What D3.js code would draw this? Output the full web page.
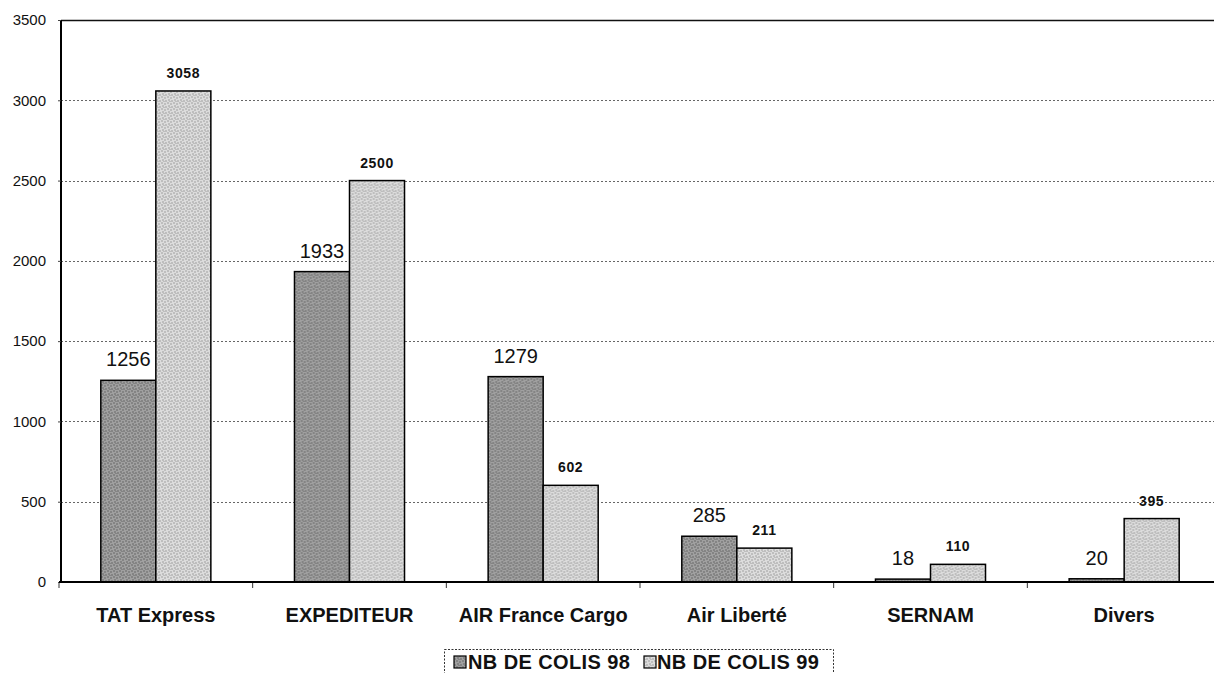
<!DOCTYPE html>
<html>
<head>
<meta charset="utf-8">
<script src="https://cdn.jsdelivr.net/npm/d3@7"></script>
<style>
  html, body { margin: 0; padding: 0; background: #fff; }
  svg { display: block; font-family: Arial, "Liberation Sans", sans-serif; }
</style>
</head>
<body>
<svg id="chart" width="1214" height="673"></svg>
<script>
const categories = ["TAT Express", "EXPEDITEUR", "AIR France Cargo", "Air Liberté", "SERNAM", "Divers"];
const seriesNames = ["NB DE COLIS 98", "NB DE COLIS 99"];
const colis98 = [1256, 1933, 1279, 285, 18, 20];
const colis99 = [3058, 2500, 602, 211, 110, 395];
const yTicks = [0, 500, 1000, 1500, 2000, 2500, 3000, 3500];

const svg = d3.select("#chart");
const mLeft = 59, mRight = 1221, mTop = 20, mBottom = 582;

const x0 = d3.scaleBand().domain(categories).range([mLeft, mRight]).padding(0);
const x1 = d3.scaleBand().domain(seriesNames).range([0, x0.bandwidth()]).paddingInner(0).paddingOuter(0.76);
const y = d3.scaleLinear().domain([0, 3500]).range([mBottom, mTop]);

// patterns for scanned texture
const defs = svg.append("defs");
function makePattern(id, base, dot, dotOpacity) {
  const p = defs.append("pattern").attr("id", id).attr("patternUnits", "userSpaceOnUse")
    .attr("width", 6).attr("height", 6);
  p.append("rect").attr("width", 6).attr("height", 6).attr("fill", base);
  [[0.5,0.5],[3.5,1.5],[1.5,3.5],[4.5,4.5],[2.5,5.5]].forEach(([cx, cy]) => {
    p.append("rect").attr("x", cx).attr("y", cy).attr("width", 1).attr("height", 1)
      .attr("fill", dot).attr("opacity", dotOpacity);
  });
}
makePattern("pat98", "#a0a0a0", "#222", 0.9);
makePattern("pat99", "#dcdcdc", "#444", 0.8);
const patIds = ["url(#pat98)", "url(#pat99)"];

// gridlines
svg.append("g").selectAll("line").data(yTicks.filter(d => d > 0)).join("line")
  .attr("x1", mLeft + 2).attr("x2", 1214)
  .attr("y1", d => Math.round(y(d)) + 0.5).attr("y2", d => Math.round(y(d)) + 0.5)
  .attr("stroke", d => d === 3500 ? "#111" : "#666")
  .attr("stroke-width", d => d === 3500 ? 1.5 : 1)
  .attr("stroke-dasharray", d => d === 3500 ? null : "2,2");

// y axis
const yAxis = d3.axisLeft(y).tickValues(yTicks).tickSize(3).tickPadding(12).tickFormat(d3.format("d"));
const gy = svg.append("g").attr("transform", `translate(${mLeft + 2},0)`).call(yAxis);
gy.select(".domain").attr("stroke", "#000").attr("stroke-width", 2).attr("d", `M0,${mTop}V${mBottom}`);
gy.selectAll(".tick line").attr("stroke", "#444");
gy.selectAll(".tick text").attr("font-size", 15).attr("fill", "#111")
  .attr("font-family", "Arial, 'Liberation Sans', sans-serif");

// bars
const groups = svg.append("g").selectAll("g").data(categories).join("g")
  .attr("transform", d => `translate(${x0(d)},0)`);

const rows = categories.map((c, i) => [
  { s: seriesNames[0], v: colis98[i], k: 0 },
  { s: seriesNames[1], v: colis99[i], k: 1 }
]);

groups.selectAll("rect").data((d, i) => rows[i]).join("rect")
  .attr("x", d => x1(d.s))
  .attr("width", x1.bandwidth())
  .attr("y", d => y(d.v))
  .attr("height", d => y(0) - y(d.v))
  .attr("fill", d => patIds[d.k])
  .attr("stroke", "#000")
  .attr("stroke-width", 1.5);

// value labels
groups.selectAll("text.val").data((d, i) => rows[i]).join("text")
  .attr("class", "val")
  .attr("x", d => x1(d.s) + x1.bandwidth() / 2)
  .attr("y", d => y(d.v) - (d.k === 0 ? 14 : 13))
  .attr("text-anchor", "middle")
  .attr("font-size", d => d.k === 0 ? 20 : 14)
  .attr("font-weight", d => d.k === 0 ? "normal" : "bold")
  .attr("letter-spacing", d => d.k === 0 ? 0 : 0.6)
  .attr("fill", "#111")
  .text(d => d.v);

// x axis
const xAxis = d3.axisBottom(x0).tickSize(0).tickPadding(26);
const gx = svg.append("g").attr("transform", `translate(0,${mBottom})`).call(xAxis);
gx.select(".domain").attr("stroke", "#000").attr("stroke-width", 2).attr("d", `M${mLeft},0H${mRight}`);
gx.selectAll(".tick text").attr("font-size", 20).attr("font-weight", "bold").attr("fill", "#111")
  .attr("font-family", "Arial, 'Liberation Sans', sans-serif");

// boundary tick marks
svg.append("g").selectAll("line").data(categories.concat(["_end"])).join("line")
  .attr("x1", (d, i) => mLeft + i * x0.step()).attr("x2", (d, i) => mLeft + i * x0.step())
  .attr("y1", mBottom + 1).attr("y2", mBottom + 6)
  .attr("stroke", "#333").attr("stroke-width", 1);

// legend
const lg = svg.append("g");
lg.append("rect").attr("x", 444.5).attr("y", 649.5).attr("width", 389).attr("height", 40)
  .attr("fill", "none").attr("stroke", "#333").attr("stroke-dasharray", "2,1.5");
const legendItems = [
  { name: seriesNames[0], sx: 454, tx: 468, k: 0 },
  { name: seriesNames[1], sx: 644, tx: 657, k: 1 }
];
legendItems.forEach(it => {
  lg.append("rect").attr("x", it.sx).attr("y", 656).attr("width", 12).attr("height", 12)
    .attr("fill", patIds[it.k]).attr("stroke", "#000").attr("stroke-width", 1.2);
  lg.append("text").attr("x", it.tx).attr("y", 669).attr("font-size", 20).attr("font-weight", "bold")
    .attr("letter-spacing", 0.4).attr("fill", "#111").text(it.name);
});
</script>
</body>
</html>
